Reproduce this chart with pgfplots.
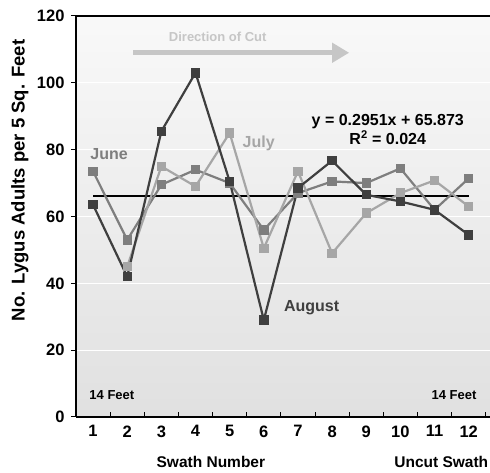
\documentclass[border=0pt]{standalone}
\usepackage{pgfplots}
\pgfplotsset{compat=1.18}
\usepackage{fontspec}
\setmainfont{Liberation Sans}
\usetikzlibrary{arrows.meta}
\definecolor{junec}{HTML}{7E7E7E}
\definecolor{julyc}{HTML}{A6A6A6}
\definecolor{augc}{HTML}{3F3F3F}
\begin{document}
\begin{tikzpicture}
\begin{axis}[
  scale only axis, width=420pt, height=401pt,
  xmin=0.5, xmax=12.8, ymin=0, ymax=120,
  axis x line*=bottom, axis y line*=left,
  x axis line style={line width=1.8pt},
  y axis line style={line width=2.6pt},
  ytick={0,20,...,120},
  xtick={1.5,2.5,...,12.5}, xticklabels={},
  extra x ticks={1,2,3,4,5,6,7,8,9,10,11,12},
  extra x tick labels={1,2,3,4,5,6,7,8,9,10,11,12},
  extra x tick style={major tick length=0pt, grid=none},
  tick align=inside,
  major tick length=5pt,
  tick style={black, line width=1pt},
  ytick style={xshift=-5pt},
  ymajorgrids, grid style={white, line width=1.2pt},
  axis background/.style={top color=gray!5, bottom color=gray!24},
  tick label style={font=\fontsize{16.5}{18}\selectfont\bfseries},
  /pgf/number format/assume math mode=true,
  xticklabel style={yshift=-5pt},
  yticklabel style={xshift=-8pt},
  clip=false,
  mark size=3.6pt,
]
\addplot[black, line width=2pt] coordinates {(1,66) (12,66)};
\addplot[junec, line width=2.2pt, mark=square*] coordinates {
(1,73.5) (2,53) (3,69.5) (4,74) (5,70) (6,56) (7,67) (8,70.5) (9,70) (10,74.4) (11,62) (12,71.4)};
\addplot[julyc, line width=2.2pt, mark=square*] coordinates {
(2,45) (3,75) (4,69) (5,85) (6,50.5) (7,73.5) (8,49) (9,61) (10,67) (11,70.8) (12,63)};
\addplot[augc, line width=2.2pt, mark=square*] coordinates {
(1,63.5) (2,42) (3,85.5) (4,103) (5,70.5) (6,29) (7,68.5) (8,76.7) (9,66.5) (10,64.5) (11,62) (12,54.5)};
\draw[line width=1.8pt] (rel axis cs:0,1) -- (rel axis cs:1,1);
\draw[line width=5pt, color=gray!45, -{Triangle[length=17pt,width=19pt]}] (axis cs:2.17,109) -- (axis cs:8.5,109);
\node[font=\fontsize{13}{15}\selectfont\bfseries, text=gray!45] at (axis cs:4.65,113.8) {Direction of Cut};
\node[font=\fontsize{16}{18}\selectfont\bfseries, text=junec] at (axis cs:1.47,78.7) {June};
\node[font=\fontsize{16}{18}\selectfont\bfseries, text=julyc] at (axis cs:5.85,82) {July};
\node[font=\fontsize{16}{18}\selectfont\bfseries, text=augc] at (axis cs:7.4,32.6) {August};
\node[font=\fontsize{16}{19}\selectfont\bfseries, align=center] at (axis cs:9.63,86) {y = 0.2951x + 65.873\\R\textsuperscript{2} = 0.024};
\node[font=\fontsize{13}{15}\selectfont\bfseries] at (axis cs:1.55,6.6) {14 Feet};
\node[font=\fontsize{13}{15}\selectfont\bfseries] at (axis cs:11.57,6.6) {14 Feet};
\node[font=\fontsize{15.5}{17}\selectfont\bfseries] at (axis cs:4.45,0) [yshift=-45pt] {Swath Number};
\node[font=\fontsize{15.5}{17}\selectfont\bfseries, anchor=west] at (axis cs:9.72,0) [yshift=-45pt] {Uncut Swath};
\node[font=\fontsize{18.5}{20}\selectfont\bfseries, xshift=-56pt, rotate=90] at (rel axis cs:0,0.59) {No. Lygus Adults per 5 Sq. Feet};
\end{axis}
\pgfresetboundingbox
\path (current axis.south west) ++(-76pt,-56pt) rectangle ++(490pt,473pt);
\end{tikzpicture}
\end{document}
